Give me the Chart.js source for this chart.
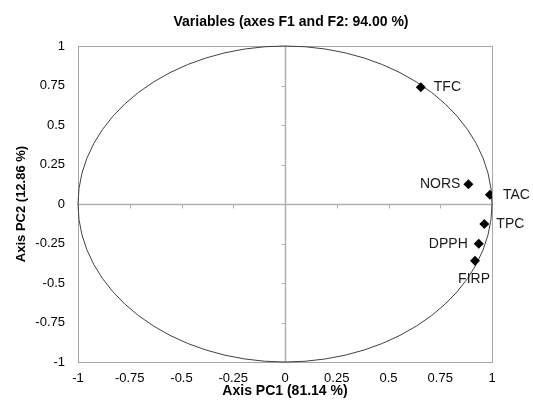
<!DOCTYPE html>
<html>
<head>
<meta charset="utf-8">
<style>
html,body{margin:0;padding:0;background:#fff;}
#wrap{width:533px;height:400px;position:relative;}
</style>
<script src="https://cdn.jsdelivr.net/npm/chart.js@4"></script>
</head>
<body>
<div id="wrap"><canvas id="c" width="533" height="400"></canvas></div>
<script>
// ---- data ----
const categories = ['TFC', 'NORS', 'TAC', 'TPC', 'DPPH', 'FIRP'];
const pc1 = [0.656, 0.886, 0.990, 0.963, 0.936, 0.918];
const pc2 = [0.739, 0.125, 0.059, -0.127, -0.251, -0.359];
const tickValues = [-1, -0.75, -0.5, -0.25, 0, 0.25, 0.5, 0.75, 1];
const chartTitle = 'Variables (axes F1 and F2: 94.00 %)';
const xTitle = 'Axis PC1 (81.14 %)';
const yTitle = 'Axis PC2 (12.86 %)';

// label placement (style, not data)
const labelPlace = {
  TFC:  {dx: 13, dy: 0, align: 'left'},
  NORS: {dx: -8, dy: 0, align: 'right'},
  TAC:  {dx: 13, dy: 0, align: 'left'},
  TPC:  {dx: 12, dy: 0, align: 'left'},
  DPPH: {dx: -11, dy: 0, align: 'right'},
  FIRP: {dx: -1, dy: 18, align: 'center'}
};

const FONT = '"Liberation Sans", Arial, sans-serif';
const points = categories.map((c, i) => ({x: pc1[i], y: pc2[i], label: c}));

const decor = {
  id: 'decor',
  beforeDatasetsDraw(chart) {
    const {ctx, chartArea: a, scales: {x, y}} = chart;
    ctx.save();
    // frame
    ctx.strokeStyle = '#a6a6a6';
    ctx.lineWidth = 1;
    ctx.strokeRect(Math.round(a.left) + 0.5, Math.round(a.top) + 0.5, Math.round(a.right - a.left), Math.round(a.bottom - a.top));
    // zero lines
    const x0 = Math.round(x.getPixelForValue(0)) + 0.5;
    const y0 = Math.round(y.getPixelForValue(0)) + 0.5;
    ctx.strokeStyle = '#b0b0b0';
    ctx.lineWidth = 1.5;
    ctx.beginPath();
    ctx.moveTo(a.left, y0); ctx.lineTo(a.right, y0);
    ctx.moveTo(x0, a.top); ctx.lineTo(x0, a.bottom);
    ctx.stroke();
    // small tick marks on zero lines
    ctx.lineWidth = 1;
    ctx.beginPath();
    tickValues.forEach(v => {
      if (v === 0 || Math.abs(v) === 1) return;
      const px = Math.round(x.getPixelForValue(v)) + 0.5;
      ctx.moveTo(px, y0); ctx.lineTo(px, y0 + 4);
      const py = Math.round(y.getPixelForValue(v)) + 0.5;
      ctx.moveTo(x0, py); ctx.lineTo(x0 - 4, py);
    });
    ctx.stroke();
    // correlation circle (unit circle)
    const cx = x.getPixelForValue(0), cy = y.getPixelForValue(0);
    const rx = x.getPixelForValue(1) - cx, ry = cy - y.getPixelForValue(1);
    ctx.strokeStyle = '#404040';
    ctx.lineWidth = 1;
    ctx.beginPath();
    ctx.ellipse(cx, cy, rx, ry, 0, 0, Math.PI * 2);
    ctx.stroke();
    // title
    ctx.fillStyle = '#000';
    ctx.font = 'bold 14px ' + FONT;
    ctx.textAlign = 'center';
    ctx.textBaseline = 'middle';
    ctx.fillText(chartTitle, (a.left + a.right) / 2 + 6, 22);
    ctx.restore();
  },
  afterDatasetsDraw(chart) {
    const {ctx} = chart;
    const meta = chart.getDatasetMeta(0);
    ctx.save();
    ctx.fillStyle = '#1a1a1a';
    ctx.font = '14px ' + FONT;
    ctx.textBaseline = 'middle';
    meta.data.forEach((el, i) => {
      const p = labelPlace[categories[i]];
      ctx.textAlign = p.align;
      ctx.fillText(categories[i], el.x + p.dx, el.y + p.dy);
    });
    ctx.restore();
  }
};

new Chart(document.getElementById('c'), {
  type: 'scatter',
  data: {
    datasets: [{
      label: 'Variables',
      data: points,
      pointStyle: 'rectRot',
      pointRadius: 5,
      pointHoverRadius: 5,
      backgroundColor: '#000',
      borderColor: '#000',
      borderWidth: 0
    }]
  },
  options: {
    responsive: false,
    animation: false,
    events: [],
    layout: {padding: {top: 46, right: 41, bottom: 0, left: 0}},
    plugins: {legend: {display: false}, title: {display: false}, tooltip: {enabled: false}},
    scales: {
      x: {
        type: 'linear', min: -1, max: 1,
        afterBuildTicks(s) { s.ticks = tickValues.map(v => ({value: v})); },
        afterFit(s) { s.height = 38; },
        grid: {display: false, drawTicks: false}, border: {display: false},
        ticks: {color: '#000', padding: 9, maxRotation: 0, autoSkip: false,
          font: {family: FONT, size: 13},
          callback: v => String(v)},
        title: {display: true, text: xTitle, color: '#000', padding: {top: 0, bottom: 0},
          font: {family: FONT, size: 14, weight: 'bold'}}
      },
      y: {
        type: 'linear', min: -1, max: 1,
        afterBuildTicks(s) { s.ticks = tickValues.map(v => ({value: v})); },
        afterFit(s) { s.width = 78; },
        grid: {display: false, drawTicks: false}, border: {display: false},
        ticks: {color: '#000', padding: 13, autoSkip: false,
          font: {family: FONT, size: 13},
          callback: v => String(v)},
        title: {display: true, text: yTitle, color: '#000', padding: {top: 14, bottom: 0},
          font: {family: FONT, size: 13, weight: 'bold'}}
      }
    }
  },
  plugins: [decor]
});
</script>
</body>
</html>
